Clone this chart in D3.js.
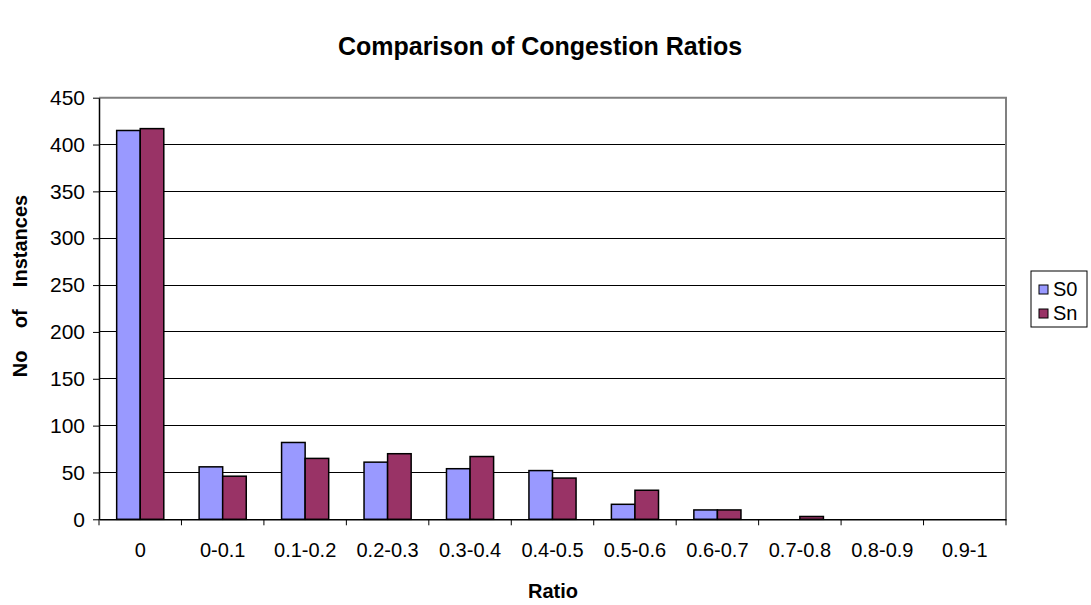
<!DOCTYPE html>
<html>
<head>
<meta charset="utf-8">
<script src="https://cdn.jsdelivr.net/npm/d3@7/dist/d3.min.js"></script>
<style>
  html, body { margin: 0; padding: 0; background: #fff; }
  svg text { font-family: "Liberation Sans", Arial, sans-serif; }
</style>
</head>
<body>
<svg id="chart" width="1091" height="605"></svg>
<script>
// Congestion ratio bins and instance counts per scheme
const categories = ["0", "0-0.1", "0.1-0.2", "0.2-0.3", "0.3-0.4", "0.4-0.5", "0.5-0.6", "0.6-0.7", "0.7-0.8", "0.8-0.9", "0.9-1"];
const seriesNames = ["S0", "Sn"];
const s0Values = [415, 56, 82, 61, 54, 52, 16, 10, 0, 0, 0];
const snValues = [417, 46, 65, 70, 67, 44, 31, 10, 3, 0, 0];
const yTicks = [0, 50, 100, 150, 200, 250, 300, 350, 400, 450];
const colors = ["#9999FF", "#993366"];

const svg = d3.select("#chart");
const plot = { left: 99, right: 1006, top: 97.7, bottom: 519.3 };

const x = d3.scaleBand().domain(categories).range([plot.left, plot.right]);
// two bars per bin, 150% gap split evenly on both sides
const inner = d3.scaleBand().domain(seriesNames)
  .range([0, x.bandwidth()]).paddingInner(0).paddingOuter(0.75);
const y = d3.scaleLinear().domain([0, 450]).range([plot.bottom, plot.top]);

// Gridlines
svg.append("g").selectAll("line").data(yTicks.filter(d => d > 0)).join("line")
  .attr("x1", plot.left).attr("x2", plot.right)
  .attr("y1", d => y(d)).attr("y2", d => y(d))
  .attr("stroke", "#000").attr("stroke-width", 1).attr("shape-rendering", "crispEdges");

// Plot border (top/right grey)
svg.append("path")
  .attr("d", `M${plot.left},${plot.top}H${plot.right}V${plot.bottom}`)
  .attr("fill", "none").attr("stroke", "#808080").attr("stroke-width", 2);

// Bars
const rows = categories.map((c, i) => ({ cat: c, vals: [s0Values[i], snValues[i]] }));
const groups = svg.append("g").selectAll("g").data(rows).join("g")
  .attr("transform", d => `translate(${x(d.cat)},0)`);
groups.selectAll("rect")
  .data(d => d.vals.map((v, k) => ({ name: seriesNames[k], v, k })).filter(e => e.v > 0))
  .join("rect")
  .attr("x", e => inner(e.name))
  .attr("width", inner.bandwidth())
  .attr("y", e => y(e.v))
  .attr("height", e => y(0) - y(e.v))
  .attr("fill", e => colors[e.k])
  .attr("stroke", "#000").attr("stroke-width", 1.5);

// Y axis
const yAxis = svg.append("g").attr("transform", `translate(${plot.left},0)`)
  .call(d3.axisLeft(y).tickValues(yTicks).tickSize(6).tickSizeOuter(0).tickPadding(8));
yAxis.select(".domain").attr("stroke", "#000").attr("stroke-width", 1.5);
yAxis.selectAll(".tick line").attr("stroke", "#000");
yAxis.selectAll("text").attr("font-size", 21).attr("fill", "#000")
  .attr("font-family", "Liberation Sans, Arial, sans-serif");

// X axis with ticks at bin boundaries
const xAxis = svg.append("g").attr("transform", `translate(0,${plot.bottom})`)
  .call(d3.axisBottom(x).tickSize(0).tickPadding(24));
xAxis.select(".domain").attr("stroke", "#000").attr("stroke-width", 1.5);
xAxis.selectAll("text").attr("font-size", 20).attr("fill", "#000")
  .attr("font-family", "Liberation Sans, Arial, sans-serif");
svg.append("g").selectAll("line")
  .data(d3.range(categories.length + 1))
  .join("line")
  .attr("x1", i => plot.left + i * x.step()).attr("x2", i => plot.left + i * x.step())
  .attr("y1", plot.bottom).attr("y2", plot.bottom + 6)
  .attr("stroke", "#000");

// Titles
svg.append("text").attr("x", 540).attr("y", 55).attr("text-anchor", "middle")
  .attr("font-size", 25).attr("font-weight", "bold").text("Comparison of Congestion Ratios");
svg.append("text").attr("x", 553).attr("y", 598).attr("text-anchor", "middle")
  .attr("font-size", 20).attr("font-weight", "bold").text("Ratio");
svg.append("text")
  .attr("transform", "translate(27,286) rotate(-90)")
  .attr("text-anchor", "middle").attr("font-size", 20).attr("font-weight", "bold")
  .attr("xml:space", "preserve").style("white-space", "pre")
  .text("No    of    Instances");

// Legend
const lg = svg.append("g").attr("transform", "translate(1031,271)");
lg.append("rect").attr("width", 56).attr("height", 56)
  .attr("fill", "#fff").attr("stroke", "#000").attr("stroke-width", 1);
seriesNames.forEach((n, i) => {
  lg.append("rect").attr("x", 8).attr("y", 14 + i * 24).attr("width", 9).attr("height", 9)
    .attr("fill", colors[i]).attr("stroke", "#000").attr("stroke-width", 1);
  lg.append("text").attr("x", 22).attr("y", 25 + i * 24).attr("font-size", 20).text(n);
});
</script>
</body>
</html>
